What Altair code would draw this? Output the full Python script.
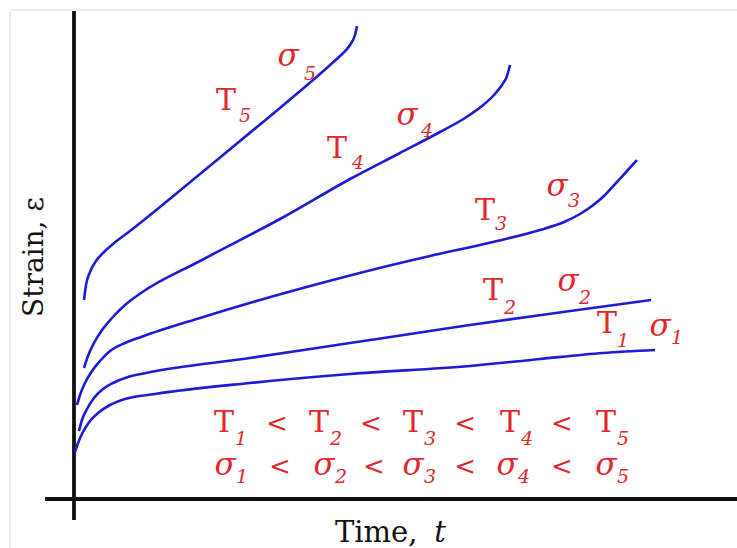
import altair as alt
import pandas as pd

# Creep curves: strain vs time (arbitrary units) for five temperature/stress levels
time_1 = [0.017, 0.067, 0.15, 0.267, 0.4, 0.6, 0.85, 1.35, 2.933, 4.6, 6.6, 7.767, 8.817, 9.683]
strain_1 = [0.94, 1.12, 1.34, 1.56, 1.72, 1.88, 2.0, 2.1, 2.32, 2.5, 2.66, 2.8, 2.92, 2.98]

time_2 = [0.083, 0.133, 0.217, 0.333, 0.483, 0.65, 0.9, 1.2, 2.933, 4.6, 5.933, 6.6, 8.15, 9.617]
strain_2 = [1.36, 1.58, 1.8, 2.02, 2.2, 2.32, 2.44, 2.52, 2.82, 3.12, 3.36, 3.48, 3.74, 3.98]

time_3 = [0.05, 0.1, 0.183, 0.3, 0.433, 0.6, 0.85, 1.117, 2.1, 3.1, 4.25, 5.433, 5.933,
          6.983, 7.767, 8.167, 8.433, 8.633, 8.85, 9.033, 9.217, 9.383]
strain_3 = [1.88, 2.08, 2.32, 2.56, 2.76, 2.96, 3.12, 3.24, 3.62, 3.98, 4.36, 4.72, 4.86,
            5.14, 5.38, 5.54, 5.7, 5.86, 6.08, 6.32, 6.56, 6.78]

time_4 = [0.167, 0.233, 0.333, 0.467, 0.633, 0.85, 1.117, 2.1, 3.433, 4.633, 5.433, 6.1,
          6.517, 6.8, 7.0, 7.133, 7.217, 7.267]
strain_4 = [2.62, 2.86, 3.12, 3.38, 3.62, 3.88, 4.12, 4.76, 5.6, 6.42, 6.92, 7.34,
            7.62, 7.86, 8.08, 8.28, 8.46, 8.68]

time_5 = [0.167, 0.2, 0.267, 0.367, 0.5, 0.65, 0.933, 1.433, 2.1, 3.15, 4.25, 4.433, 4.6, 4.683, 4.717]
strain_5 = [3.98, 4.28, 4.54, 4.76, 4.94, 5.1, 5.36, 5.84, 6.5, 7.54, 8.66, 8.86, 9.08, 9.28, 9.46]

curve_times = [time_1, time_2, time_3, time_4, time_5]
curve_strains = [strain_1, strain_2, strain_3, strain_4, strain_5]

# Curve labels: symbol, its subscript, and where each sits (time, strain)
label_symbols = ["T", "σ", "T", "σ", "T", "σ", "T", "σ", "T", "σ"]
label_subs = ["5", "5", "4", "4", "3", "3", "2", "2", "1", "1"]
label_t = [2.533, 3.567, 4.383, 5.55, 6.85, 8.05, 6.983, 8.233, 8.883, 9.767]
label_s = [7.78, 8.66, 6.82, 7.48, 5.58, 6.06, 3.98, 4.16, 3.32, 3.26]
label_sub_t = [2.85, 3.933, 4.733, 5.883, 7.117, 8.333, 7.267, 8.517, 9.15, 10.05]
label_sub_s = [7.54, 8.38, 6.6, 7.24, 5.38, 5.84, 3.7, 3.9, 3.04, 3.1]

# Ordering statements T1 < ... < T5 and σ1 < ... < σ5
order_subs = ["1", "2", "3", "4", "5"]
order_T_t = [2.5, 4.083, 5.65, 7.267, 8.867]
order_T_sub_t = [2.783, 4.367, 5.933, 7.55, 9.15]
order_sig_t = [2.517, 4.167, 5.65, 7.217, 8.867]
order_sig_sub_t = [2.8, 4.45, 5.933, 7.5, 9.15]
order_lt_t_row1 = [3.383, 4.95, 6.517, 8.133]
order_lt_t_row2 = [3.433, 5.0, 6.517, 8.133]
row1_s, row1_sub_s = 1.34, 1.08
row2_s, row2_sub_s = 0.48, 0.32

W, H = 737, 548
X_DOMAIN = [-1.2333, 11.05]
Y_DOMAIN = [-0.98, 9.98]
FONT = "DejaVu Serif"
RED = "#e3262c"
BLUE = "#1c1cd2"
INK = "#111111"

xs = alt.Scale(domain=X_DOMAIN, nice=False, zero=False)
ys = alt.Scale(domain=Y_DOMAIN, nice=False, zero=False)


def X(field="t"):
    return alt.X(f"{field}:Q", scale=xs, axis=None)


def Y(field="s"):
    return alt.Y(f"{field}:Q", scale=ys, axis=None)


rows = []
for i, (ts, ss) in enumerate(zip(curve_times, curve_strains), start=1):
    for k, (t, s) in enumerate(zip(ts, ss)):
        rows.append({"curve": i, "order": k, "t": t, "s": s})
curves_df = pd.DataFrame(rows)

curves = alt.Chart(curves_df).mark_line(
    color=BLUE, strokeWidth=2.6, interpolate="monotone"
).encode(x=X(), y=Y(), detail="curve:N", order="order:Q")

# Light frame at the top and left
frame_df = pd.DataFrame([
    {"t": -1.067, "t2": X_DOMAIN[1], "s": 9.78, "s2": 9.78},
    {"t": -1.067, "t2": -1.067, "s": 9.78, "s2": Y_DOMAIN[0]},
])
frame = alt.Chart(frame_df).mark_rule(color="#dce6ef", strokeWidth=1.5).encode(
    x=X(), x2="t2:Q", y=Y(), y2="s2:Q"
)

# Crossed axes with overhang
axes_df = pd.DataFrame([
    {"t": 0.0, "t2": 0.0, "s": -0.42, "s2": 9.76},
    {"t": -0.483, "t2": X_DOMAIN[1], "s": 0.0, "s2": 0.0},
])
axes = alt.Chart(axes_df).mark_rule(color=INK, strokeWidth=3.8).encode(
    x=X(), x2="t2:Q", y=Y(), y2="s2:Q"
)


def txt(df, size, style="normal", color=RED, **kw):
    params = dict(font=FONT, fontSize=size, fontStyle=style, color=color,
                  align="center", baseline="alphabetic")
    params.update(kw)
    return alt.Chart(df).mark_text(**params).encode(x=X(), y=Y(), text="text:N")


lab_df = pd.DataFrame({"text": label_symbols, "t": label_t, "s": label_s})
sub_df = pd.DataFrame({"text": label_subs, "t": label_sub_t, "s": label_sub_s})

label_layers = [
    txt(lab_df[lab_df["text"] == "T"], 30),
    txt(lab_df[lab_df["text"] == "σ"], 31, "italic"),
    txt(sub_df, 19, "italic"),
]

row1_T = pd.DataFrame({"text": ["T"] * 5, "t": order_T_t, "s": [row1_s] * 5})
row1_sub = pd.DataFrame({"text": order_subs, "t": order_T_sub_t, "s": [row1_sub_s] * 5})
row1_lt = pd.DataFrame({"text": ["<"] * 4, "t": order_lt_t_row1, "s": [row1_s] * 4})
row2_sig = pd.DataFrame({"text": ["σ"] * 5, "t": order_sig_t, "s": [row2_s] * 5})
row2_sub = pd.DataFrame({"text": order_subs, "t": order_sig_sub_t, "s": [row2_sub_s] * 5})
row2_lt = pd.DataFrame({"text": ["<"] * 4, "t": order_lt_t_row2, "s": [row2_s] * 4})

order_layers = [
    txt(row1_T, 30), txt(row1_sub, 19, "italic"), txt(row1_lt, 26, "italic"),
    txt(row2_sig, 31, "italic"), txt(row2_sub, 19, "italic"), txt(row2_lt, 26, "italic"),
]

# Axis titles
ytitle = txt(pd.DataFrame({"text": ["Strain, ε"], "t": [-0.65], "s": [4.84]}), 28,
             color=INK, angle=270, baseline="middle")
xtitle_a = txt(pd.DataFrame({"text": ["Time,"], "t": [4.35], "s": [-0.86]}), 29,
               color=INK, align="left")
xtitle_b = txt(pd.DataFrame({"text": ["t"], "t": [6.1], "s": [-0.86]}), 29, "italic",
               color=INK)

chart = alt.layer(
    frame, axes, curves, *label_layers, *order_layers, ytitle, xtitle_a, xtitle_b
).properties(
    width=W, height=H, padding=0, autosize=alt.AutoSizeParams(type="none"), background="white"
).configure_view(stroke=None)

chart.save("out.html", embed_options={"renderer": "svg", "actions": False})
